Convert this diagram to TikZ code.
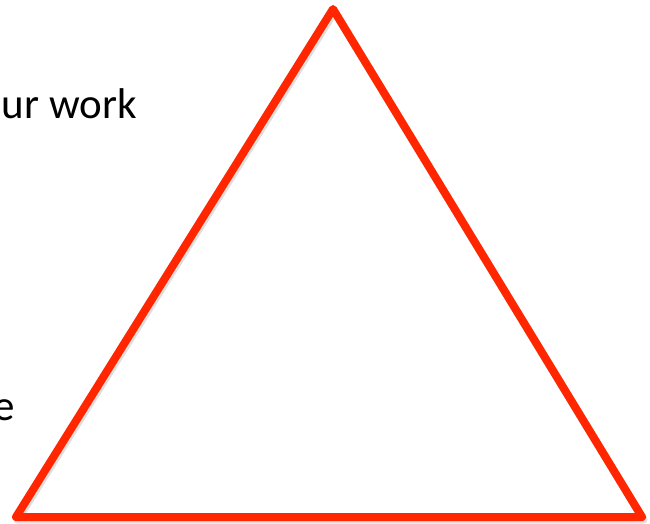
\documentclass[tikz,border=0pt]{standalone}
\usepackage{fontspec}
\setmainfont{Carlito}
\definecolor{trired}{RGB}{255,38,0}
\tikzset{
  tri/.style={draw=trired, line width=8pt, line join=round},
  trishadow/.style={draw=black!25, line width=8pt, line join=round},
  lbl/.style={inner sep=0pt, font=\fontsize{43}{50}\selectfont}
}
\begin{document}
\begin{tikzpicture}[x=1pt,y=-1pt]
\useasboundingbox (0,0) rectangle (650,523);
\fill[white] (0,0) rectangle (650,523);
\coordinate (A) at (333,9);
\coordinate (B) at (16,517);
\coordinate (C) at (642,517);
\draw[trishadow, opacity=0.5] ([shift={(1.5,2.5)}]A) -- ([shift={(1.5,2.5)}]B) -- ([shift={(1.5,2.5)}]C) -- cycle;
\draw[tri] (A) -- (B) -- (C) -- cycle;
\node[lbl, anchor=base east] (t1) at (137,118) {ur work};
\node[lbl, anchor=base east] (t2) at (15,420) {e};
\end{tikzpicture}
\end{document}
